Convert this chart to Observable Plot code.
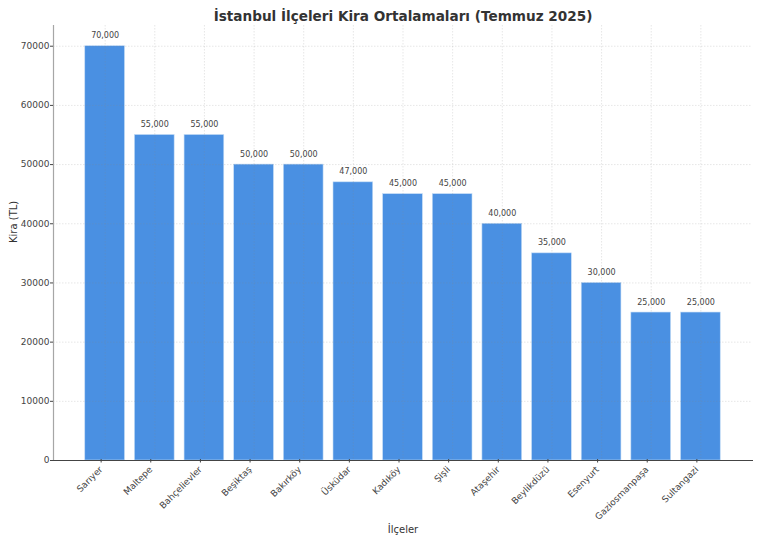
<!DOCTYPE html>
<html>
<head>
<meta charset="utf-8">
<script src="https://cdn.jsdelivr.net/npm/d3@7"></script>
<script src="https://cdn.jsdelivr.net/npm/@observablehq/plot@0.6"></script>
<style>
html,body{margin:0;padding:0;background:#fff}
svg{display:block}
</style>
</head>
<body>
<div id="chart"></div>
<script>
const districts = ["Sarıyer","Maltepe","Bahçelievler","Beşiktaş","Bakırköy","Üsküdar","Kadıköy","Şişli","Ataşehir","Beylikdüzü","Esenyurt","Gaziosmanpaşa","Sultangazi"];
const rents = [70000,55000,55000,50000,50000,47000,45000,45000,40000,35000,30000,25000,25000];
const yTicks = [0,10000,20000,30000,40000,50000,60000,70000];
const chartTitle = "İstanbul İlçeleri Kira Ortalamaları (Temmuz 2025)";
const xTitle = "İlçeler";
const yTitle = "Kira (TL)";
const rows = districts.map((d,i)=>({district:d,rent:rents[i]}));

const plot = Plot.plot({
  width:760,
  height:543,
  marginLeft:53,
  marginRight:8,
  marginTop:25,
  marginBottom:83,
  style:{fontFamily:"'DejaVu Sans',sans-serif",background:"#fff",color:"#333"},
  x:{domain:districts,paddingInner:0.2,paddingOuter:0.64,align:0.5,round:false,label:null},
  y:{domain:[0,73500],label:null},
  marks:[
    Plot.barY(rows,{x:"district",y:"rent",fill:"#4a90e2",stroke:"#c4dcf5",strokeWidth:0.6}),
    Plot.gridY(yTicks,{stroke:"#888",strokeOpacity:0.35,strokeDasharray:"1.5,1.5",strokeWidth:0.6}),
    Plot.gridX(districts,{stroke:"#888",strokeOpacity:0.35,strokeDasharray:"1.5,1.5",strokeWidth:0.6}),
    Plot.frame({anchor:"left",stroke:"#a6a6a6",strokeWidth:1.2}),
    Plot.frame({anchor:"bottom",stroke:"#444",strokeWidth:1}),
    Plot.axisY({ticks:yTicks,tickFormat:d=>String(d),tickSize:3,tickPadding:1,fontSize:9,stroke:"#444",fill:"#444",label:null}),
    Plot.axisX({tickSize:3.5,tickPadding:5,tickRotate:-45,dx:-4,dy:-1,fontSize:9,stroke:"#444",fill:"#444",label:null}),
    Plot.text(rows,{x:"district",y:"rent",text:d=>d3.format(",")(d.rent),dy:-10.5,fontSize:8,fill:"#444"}),
    Plot.text([chartTitle],{frameAnchor:"top",dy:-14,fontSize:13.6,fontWeight:"bold",fill:"#333"}),
    Plot.text([xTitle],{frameAnchor:"bottom",dy:72,fontSize:10,fill:"#333"}),
    Plot.text([yTitle],{frameAnchor:"left",dx:-40,rotate:-90,fontSize:10,fill:"#333"})
  ]
});
document.getElementById("chart").append(plot);
</script>
</body>
</html>
